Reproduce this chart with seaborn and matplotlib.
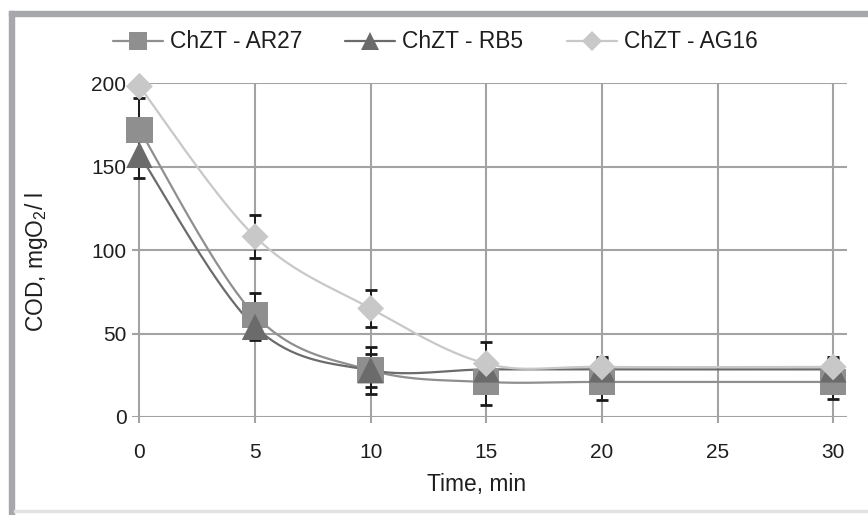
import numpy as np
import pandas as pd
import matplotlib
matplotlib.use("Agg")
import matplotlib.pyplot as plt
import seaborn as sns
from matplotlib.lines import Line2D
from matplotlib.patches import Rectangle

# ---- data ----
time_min = [0, 5, 10, 15, 20, 30]
series_names = ["ChZT - AR27", "ChZT - RB5", "ChZT - AG16"]
cod_ar27 = [172, 61, 28, 21, 21, 21]
cod_rb5 = [157, 54, 28, 28.5, 28.5, 28.5]
cod_ag16 = [198, 108, 65, 32, 30, 30]
err_ar27 = [19, 13, 14, 14, 11, 10]
err_rb5 = [14, 8, 10, 6, 6, 6]
err_ag16 = [2, 13, 11, 13, 6, 6]
x_ticks = [0, 5, 10, 15, 20, 25, 30]
y_ticks = [0, 50, 100, 150, 200]

values = {series_names[0]: cod_ar27, series_names[1]: cod_rb5, series_names[2]: cod_ag16}
errors = {series_names[0]: err_ar27, series_names[1]: err_rb5, series_names[2]: err_ag16}
colors = {series_names[0]: "#8f8f8f", series_names[1]: "#6b6b6b", series_names[2]: "#c8c8c8"}
markers = {series_names[0]: "s", series_names[1]: "^", series_names[2]: "D"}
msizes = {series_names[0]: 19, series_names[1]: 19, series_names[2]: 13.7}
leg_msizes = {series_names[0]: 13, series_names[1]: 13.5, series_names[2]: 10}


def excel_smooth(x, y, n=40):
    pts = np.column_stack([x, y]).astype(float)
    out = []
    for i in range(len(pts) - 1):
        p0 = pts[i - 1] if i > 0 else pts[i]
        p1 = pts[i]
        p2 = pts[i + 1]
        p3 = pts[i + 2] if i + 2 < len(pts) else pts[i + 1]
        b1 = p1 + (p2 - p0) / 6.0
        b2 = p2 - (p3 - p1) / 6.0
        t = np.linspace(0, 1, n)[:, None]
        if i > 0:
            t = t[1:]
        c = (1 - t) ** 3 * p1 + 3 * (1 - t) ** 2 * t * b1 + 3 * (1 - t) * t ** 2 * b2 + t ** 3 * p2
        out.append(c)
    return np.vstack(out)


curve_rows = []
point_rows = []
for name in series_names:
    c = excel_smooth(time_min, values[name])
    for order, (cx, cy) in enumerate(c):
        curve_rows.append({"series": name, "x": cx, "y": cy, "order": order})
    for tx, vy in zip(time_min, values[name]):
        point_rows.append({"series": name, "x": tx, "y": vy})
curves = pd.DataFrame(curve_rows)
points = pd.DataFrame(point_rows)

sns.set_theme(style="white")
plt.rcParams["font.family"] = ["Liberation Sans", "DejaVu Sans"]
plt.rcParams["mathtext.fontset"] = "custom"
plt.rcParams["mathtext.rm"] = "Liberation Sans"
plt.rcParams["mathtext.it"] = "Liberation Sans:italic"

FS_TICK = 15
FS = 16.4
TXT = "#1e1e1e"
GRID = "#a3a3a3"

fig = plt.figure(figsize=(8.68, 5.15), dpi=100)
W, H = 868, 515
ax = fig.add_axes([132 / W, 1 - 417 / H, (847 - 132) / W, (417 - 83) / H])

# frame
fig.patches.append(Rectangle((9 / W, 1 - 16 / H), 1, 5 / H, transform=fig.transFigure,
                             color="#a7a8ab", zorder=0))
fig.patches.append(Rectangle((9 / W, 0), 5 / W, (H - 11) / H, transform=fig.transFigure,
                             color="#a7a8ab", zorder=0))
fig.patches.append(Rectangle((14 / W, 3 / H), 1, 2 / H, transform=fig.transFigure,
                             color="#e2e2e2", zorder=0))

ax.set_xlim(-0.32, 30.6)
ax.set_ylim(0, 200)
ax.set_xticks(x_ticks)
ax.set_yticks(y_ticks)
ax.grid(True, color=GRID, lw=1.5, zorder=0.5)
ax.set_axisbelow(True)
for s in ax.spines.values():
    s.set_visible(False)

sns.lineplot(data=curves, x="x", y="y", hue="series", palette=colors, sort=False,
             estimator=None, units="series", lw=1.6, legend=False, ax=ax, zorder=2)

for name in series_names:
    eb = ax.errorbar(time_min, values[name], yerr=errors[name], fmt="none", ecolor="#1a1a1a",
                     elinewidth=1.4, capsize=4.3, capthick=2.0, zorder=2.5)
    for art in eb.get_children():
        art.set_clip_on(False)

sns.scatterplot(data=points, x="x", y="y", hue="series", style="series", size="series",
                palette=colors, markers=markers,
                sizes={k: v ** 2 for k, v in msizes.items()},
                linewidth=0, legend=False, ax=ax, zorder=3, clip_on=False)

ax.tick_params(axis="x", length=4.5, width=1.5, color=GRID, pad=14, labelsize=FS_TICK,
               labelcolor=TXT, bottom=True)
ax.tick_params(axis="y", length=0, pad=4, labelsize=FS_TICK, labelcolor=TXT)

ax.set_xlabel("Time, min", fontsize=FS, color=TXT)
ax.set_ylabel(r"COD, mgO$_\mathregular{2}$/ l", fontsize=FS, color=TXT)
ax.xaxis.set_label_coords((477 - 132) / 715, (417 - 485) / 334)
ax.yaxis.set_label_coords((37 - 132) / 715, 0.465)
ax.xaxis.label.set_va("center")
ax.yaxis.label.set_va("center")

handles = [Line2D([], [], color=colors[n], lw=1.6, marker=markers[n], markersize=leg_msizes[n],
                  markeredgewidth=0) for n in series_names]
fig.legend(handles, series_names, loc="center", bbox_to_anchor=(435 / W, 1 - 42 / H), ncol=3,
           frameon=False, fontsize=FS, handlelength=2.2, handletextpad=0.3, columnspacing=1.9,
           labelcolor=TXT)

fig.savefig("out.png", dpi=100)
